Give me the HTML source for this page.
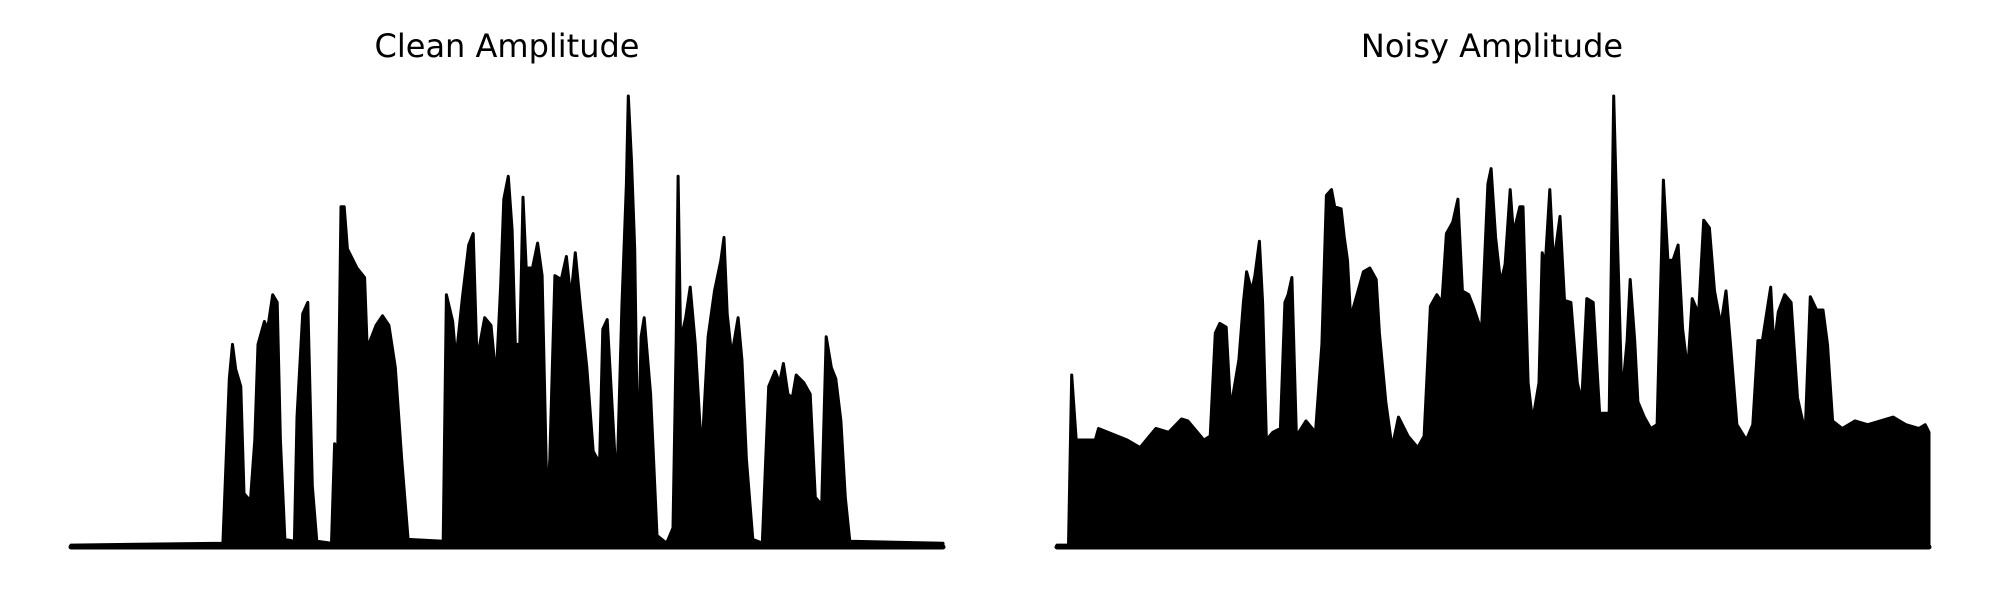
<!DOCTYPE html>
<html><head><meta charset="utf-8">
<style>
html,body{margin:0;padding:0;background:#fff;}
svg{display:block;}
text{font-family:"DejaVu Sans","Liberation Sans",sans-serif;}
</style></head>
<body>
<svg id="chart" width="2000" height="600" viewBox="0 0 2000 600">
  <text x="507" y="57" font-size="32" text-anchor="middle">Clean Amplitude</text>
  <text x="1492" y="57" font-size="32" text-anchor="middle">Noisy Amplitude</text>
  <g id="clean"></g>
  <g id="noisy"></g>
</svg>
<script>
// time (arbitrary units) and envelope amplitude (arbitrary units)
const cleanTime = [112,350,360,365,370,378,383,393,400,405,415,420,428,435,440,447,462,466,475,483,490,497,520,525,530,535,540,545,560,572,576,590,600,610,620,630,640,695,700,710,715,725,735,742,748,760,770,778,785,790,797,803,808,815,820,825,835,843,850,858,862,870,880,888,895,902,910,920,930,940,945,952,960,967,975,982,985,990,995,1000,1005,1010,1020,1030,1045,1055,1060,1063,1067,1075,1082,1090,1100,1110,1120,1130,1135,1140,1147,1157,1163,1170,1180,1195,1205,1215,1222,1228,1235,1242,1248,1260,1270,1278,1288,1295,1303,1310,1318,1325,1332,1478];
const cleanAmp = [5,10,440,530,465,420,140,120,280,530,590,570,660,640,280,20,15,340,610,640,160,15,10,270,260,890,890,780,730,705,520,580,605,580,470,230,20,15,660,590,490,650,790,820,490,600,580,440,680,910,970,830,530,530,915,730,730,795,710,100,230,710,700,760,650,770,630,470,250,220,570,595,360,150,630,950,1180,1010,780,200,550,600,400,30,10,50,540,970,540,600,680,530,240,550,670,750,810,610,500,600,490,230,20,10,420,460,430,480,400,390,450,430,400,130,110,550,470,440,330,130,15,10];
const noisyTime = [90,108,113,120,150,155,200,220,245,265,285,295,320,330,338,345,355,362,375,382,387,395,400,407,412,418,428,440,447,452,458,465,480,495,505,512,520,525,535,540,545,550,560,570,580,590,595,605,615,625,640,655,665,675,685,693,700,710,718,725,735,742,755,765,770,777,785,792,800,805,815,820,828,835,845,850,855,862,868,878,885,895,905,912,920,930,940,955,962,968,975,983,988,995,1000,1010,1020,1030,1040,1047,1055,1063,1070,1078,1085,1095,1103,1112,1120,1130,1138,1145,1155,1170,1180,1188,1195,1208,1213,1220,1230,1240,1250,1262,1270,1280,1290,1297,1305,1320,1340,1360,1400,1420,1440,1450,1456,1456];
const noisyAmp = [5,5,450,280,280,310,280,260,310,300,335,330,280,290,560,585,575,360,490,640,720,670,710,800,640,280,300,310,640,660,705,290,330,300,530,920,935,890,885,810,750,600,660,720,730,700,560,380,260,340,290,260,290,630,660,640,820,850,910,670,660,630,565,950,990,810,690,740,935,820,890,890,430,330,430,770,740,935,740,865,645,640,430,380,650,640,350,350,1180,800,390,540,700,540,380,340,310,320,960,750,750,790,570,460,650,610,855,835,670,580,670,530,320,280,320,540,540,680,520,615,660,640,390,300,655,620,620,530,330,310,330,320,340,320,310,320,300,0];

const tDomainClean = [112,1478], tDomainNoisy = [90,1456], aMax = 1180;
const baseY = 547, plotH = 451;
function xScale(t, dom, left){ return left + (t-dom[0])/(dom[1]-dom[0])*872; }
function yScale(a){ return baseY - a/aMax*plotH; }
const NS='http://www.w3.org/2000/svg';
function drawPanel(gid, times, amps, dom, left, name){
  const g=document.getElementById(gid);
  let pts=[];
  for(let i=0;i<times.length;i++){ pts.push(xScale(times[i],dom,left).toFixed(1)+','+yScale(amps[i]).toFixed(1)); }
  pts.push(xScale(times[times.length-1],dom,left).toFixed(1)+','+baseY);
  pts.push(xScale(times[0],dom,left).toFixed(1)+','+baseY);
  const p=document.createElementNS(NS,'polygon');
  p.setAttribute('points',pts.join(' '));
  p.setAttribute('fill','#000');p.setAttribute('stroke','#000');
  p.setAttribute('stroke-width','3');p.setAttribute('stroke-linejoin','round');
  
  
  g.appendChild(p);
  const l=document.createElementNS(NS,'line');
  l.setAttribute('x1',xScale(dom[0],dom,left));l.setAttribute('x2',xScale(dom[1],dom,left));
  l.setAttribute('y1',baseY);l.setAttribute('y2',baseY);
  l.setAttribute('stroke','#000');l.setAttribute('stroke-width','5');l.setAttribute('stroke-linecap','round');
  
  
  g.appendChild(l);
}
drawPanel('clean', cleanTime, cleanAmp, tDomainClean, 71, 'clean');
drawPanel('noisy', noisyTime, noisyAmp, tDomainNoisy, 1057, 'noisy');
</script>
</body></html>
